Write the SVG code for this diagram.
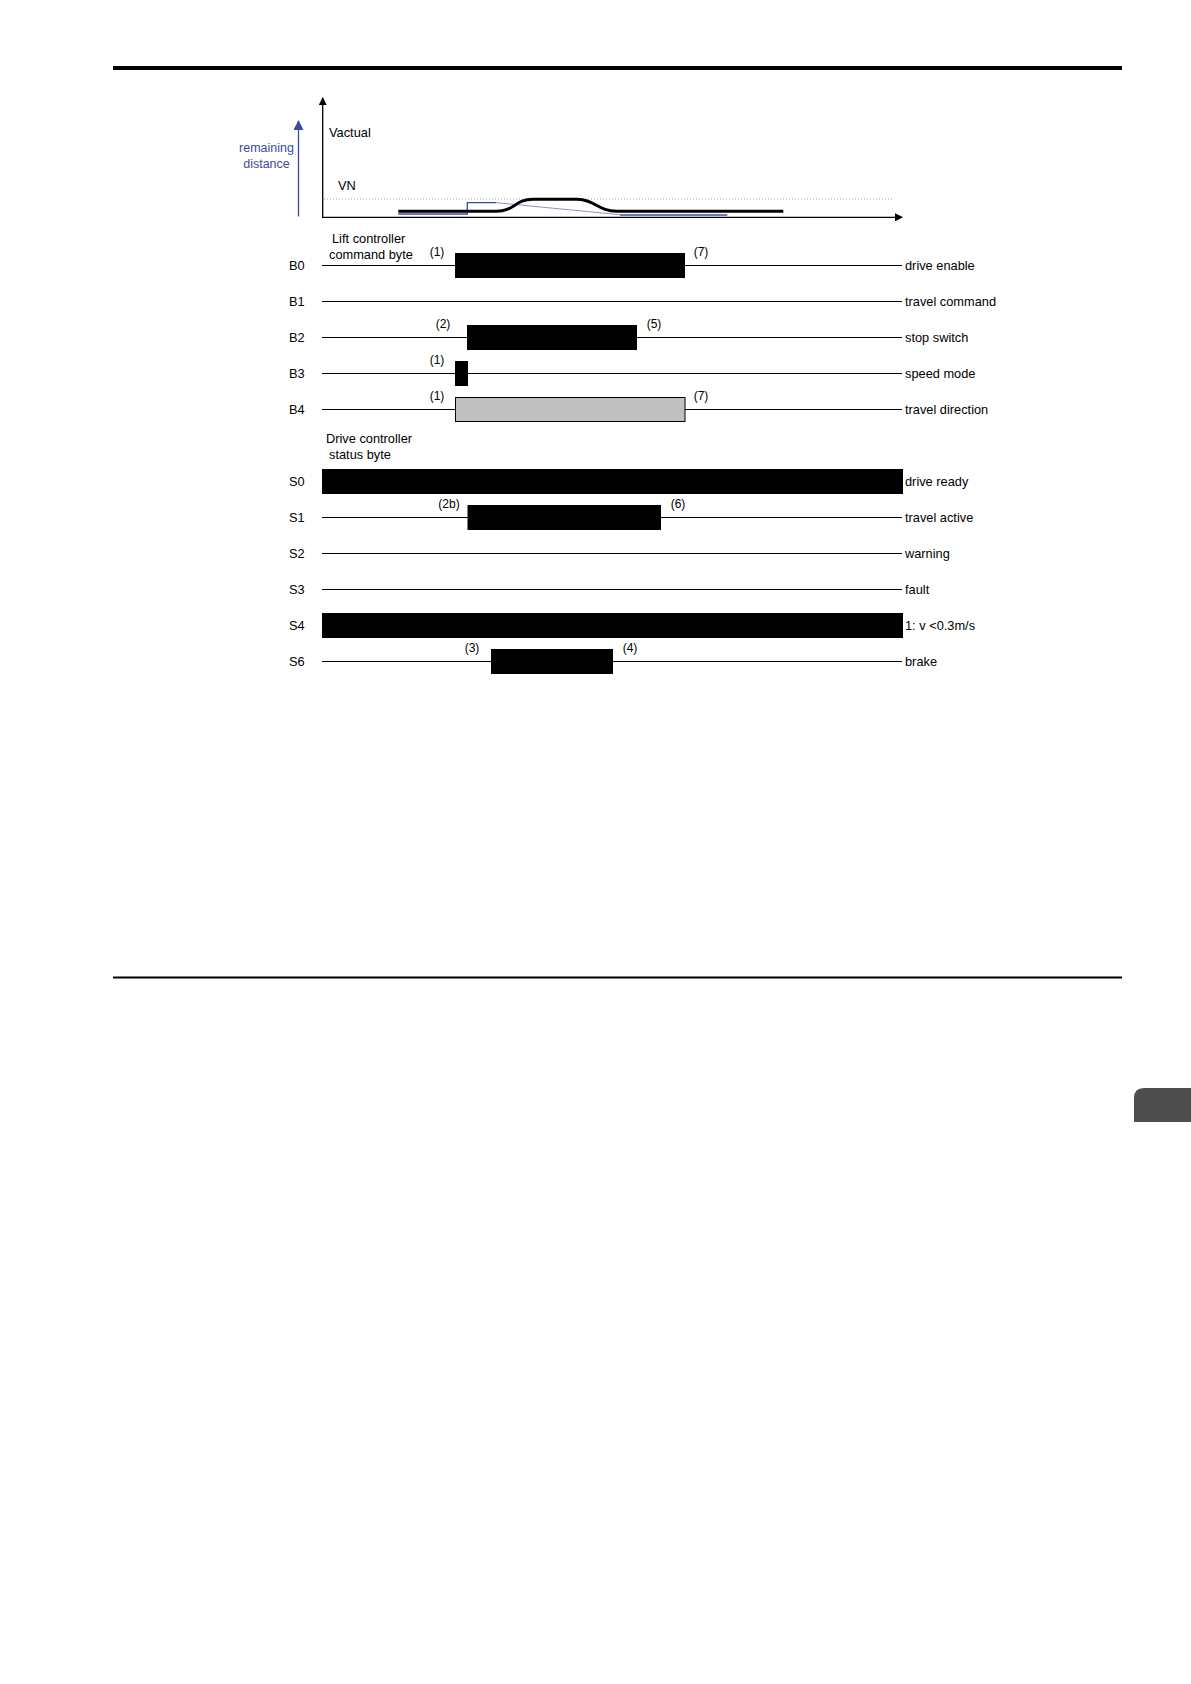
<svg xmlns="http://www.w3.org/2000/svg" width="1191" height="1684" viewBox="0 0 1191 1684">
<style>
text{font-family:"Liberation Sans",Arial,sans-serif;font-size:12px;fill:#000}
.lab{font-size:12.8px}
.ann{font-size:12px;text-anchor:middle}
.blue{fill:#3B4C9B;font-size:12.5px;text-anchor:middle}
.sig{stroke:#000;stroke-width:1.2;fill:none}
.hi{fill:#000}
</style>
<defs>
<marker id="ah" markerWidth="8" markerHeight="8" refX="7" refY="4" orient="auto" markerUnits="userSpaceOnUse">
<path d="M0,0 L8,4 L0,8 Z" fill="#000"/>
</marker>
<marker id="ahb" markerWidth="10" markerHeight="10" refX="9" refY="5" orient="auto" markerUnits="userSpaceOnUse">
<path d="M0,0 L10,5 L0,10 Z" fill="#3B4C9B"/>
</marker>
</defs>
<rect width="1191" height="1684" fill="#fff"/>
<!-- page rules -->
<rect x="113" y="66" width="1009" height="4" fill="#000"/>
<rect x="113" y="976.5" width="1009" height="2" fill="#000"/>
<path d="M1191,1088 H1144 Q1134,1088 1134,1098 V1122 H1191 Z" fill="#4d4d4d"/>

<!-- speed chart -->
<g id="speed-chart">
<line x1="322.7" y1="217.5" x2="322.7" y2="98" stroke="#000" stroke-width="1.3" marker-end="url(#ah)"/>
<line x1="322" y1="217.3" x2="902" y2="217.3" stroke="#000" stroke-width="1.3" marker-end="url(#ah)"/>
<line x1="298.5" y1="216.5" x2="298.5" y2="121" stroke="#3B4C9B" stroke-width="1.3" marker-end="url(#ahb)"/>
<text class="blue" x="266.5" y="152">remaining</text>
<text class="blue" x="266.5" y="168">distance</text>
<text class="lab" x="329" y="136.5">Vactual</text>
<text class="lab" x="338" y="190">VN</text>
<line x1="324" y1="199" x2="892" y2="199" stroke="#aaa" stroke-width="1" stroke-dasharray="1,2"/>
<path d="M398.3,214 H467.3 V202.7 H496" fill="none" stroke="#3B4C9B" stroke-width="1.3"/>
<path d="M496,202.7 L620,214.7" fill="none" stroke="#8A93C8" stroke-width="1"/>
<path d="M620,215 H727.3" fill="none" stroke="#3B4C9B" stroke-width="1.3"/>
<path d="M398.3,211.3 H496.7 C514,211.3 515,199.3 533,199.3 H576.7 C595,199.3 598,211.3 616.7,211.3 H783.3" fill="none" stroke="#000" stroke-width="3"/>
</g>

<!-- command byte -->
<g id="cmd-title">
<text class="lab" x="332" y="243">Lift controller</text>
<text class="lab" x="329" y="259">command byte</text>
</g>
<g id="B0">
<text class="lab" x="289" y="270">B0</text>
<line class="sig" x1="322" y1="265.5" x2="902" y2="265.5"/>
<rect class="hi" x="455" y="253" width="230" height="25"/>
<text class="ann" x="437" y="256">(1)</text>
<text class="ann" x="701" y="256">(7)</text>
<text class="lab" x="905" y="270">drive enable</text>
</g>
<g id="B1">
<text class="lab" x="289" y="306">B1</text>
<line class="sig" x1="322" y1="301.5" x2="902" y2="301.5"/>
<text class="lab" x="905" y="306">travel command</text>
</g>
<g id="B2">
<text class="lab" x="289" y="342">B2</text>
<line class="sig" x1="322" y1="337.5" x2="902" y2="337.5"/>
<rect class="hi" x="467" y="325" width="170" height="25"/>
<text class="ann" x="443" y="328">(2)</text>
<text class="ann" x="654" y="328">(5)</text>
<text class="lab" x="905" y="342">stop switch</text>
</g>
<g id="B3">
<text class="lab" x="289" y="378">B3</text>
<line class="sig" x1="322" y1="373.5" x2="902" y2="373.5"/>
<rect class="hi" x="455" y="361" width="13" height="25"/>
<text class="ann" x="437" y="364">(1)</text>
<text class="lab" x="905" y="378">speed mode</text>
</g>
<g id="B4">
<text class="lab" x="289" y="414">B4</text>
<line class="sig" x1="322" y1="409.5" x2="902" y2="409.5"/>
<rect x="455.5" y="397.5" width="229.5" height="24" fill="#c0c0c0" stroke="#000" stroke-width="1"/>
<text class="ann" x="437" y="400">(1)</text>
<text class="ann" x="701" y="400">(7)</text>
<text class="lab" x="905" y="414">travel direction</text>
</g>

<!-- status byte -->
<g id="status-title">
<text class="lab" x="326" y="443">Drive controller</text>
<text class="lab" x="329" y="459">status byte</text>
</g>
<g id="S0">
<text class="lab" x="289" y="486">S0</text>
<rect class="hi" x="322" y="469" width="581" height="25"/>
<text class="lab" x="905" y="486">drive ready</text>
</g>
<g id="S1">
<text class="lab" x="289" y="522">S1</text>
<line class="sig" x1="322" y1="517.5" x2="902" y2="517.5"/>
<rect class="hi" x="467.5" y="505" width="193.5" height="25"/>
<text class="ann" x="449" y="508">(2b)</text>
<text class="ann" x="678" y="508">(6)</text>
<text class="lab" x="905" y="522">travel active</text>
</g>
<g id="S2">
<text class="lab" x="289" y="558">S2</text>
<line class="sig" x1="322" y1="553.5" x2="902" y2="553.5"/>
<text class="lab" x="905" y="558">warning</text>
</g>
<g id="S3">
<text class="lab" x="289" y="594">S3</text>
<line class="sig" x1="322" y1="589.5" x2="902" y2="589.5"/>
<text class="lab" x="905" y="594">fault</text>
</g>
<g id="S4">
<text class="lab" x="289" y="630">S4</text>
<rect class="hi" x="322" y="613" width="581" height="25"/>
<text class="lab" x="905" y="630">1: v &lt;0.3m/s</text>
</g>
<g id="S6">
<text class="lab" x="289" y="666">S6</text>
<line class="sig" x1="322" y1="661.5" x2="902" y2="661.5"/>
<rect class="hi" x="491" y="649" width="122" height="25"/>
<text class="ann" x="472" y="652">(3)</text>
<text class="ann" x="630" y="652">(4)</text>
<text class="lab" x="905" y="666">brake</text>
</g>
</svg>
